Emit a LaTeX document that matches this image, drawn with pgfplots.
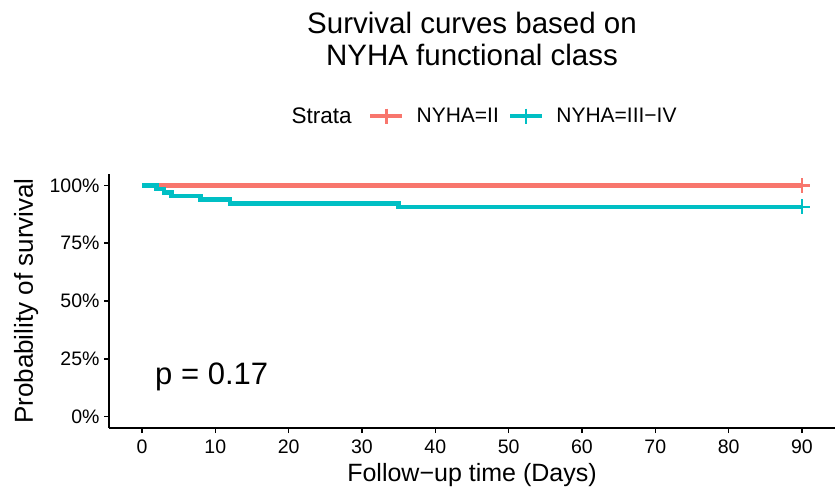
\documentclass[border=0pt]{standalone}
\usepackage{pgfplots}
\pgfplotsset{compat=1.18}
\usepackage{fontspec}
\setmainfont{Liberation Sans}
\definecolor{cred}{HTML}{F8766D}
\definecolor{cteal}{HTML}{00BFC4}
\begin{document}
\begin{tikzpicture}
\useasboundingbox (0,0) rectangle (837pt,491pt);
\begin{axis}[
  at={(109pt,63pt)}, anchor=south west,
  scale only axis, width=726pt, height=254pt,
  xmin=-4.5, xmax=94.5, ymin=-5, ymax=105,
  axis x line*=bottom, axis y line*=left,
  axis line style={line width=1.6pt, black, -},
  xtick={0,10,...,90}, ytick={0,25,50,75,100},
  yticklabel={\pgfmathprintnumber{\tick}\%},
  /pgf/number format/assume math mode=true,
  tick align=outside, major tick length=5pt,
  tick style={line width=1.6pt, black},
  ticklabel style={font=\fontsize{19.5}{22}\selectfont},
  xticklabel style={yshift=-3pt},
  yticklabel style={xshift=-1pt},
  xlabel={Follow−up time (Days)},
  ylabel={Probability of survival},
  xlabel style={font=\fontsize{25}{28}\selectfont, at={(axis description cs:0.5,-0.2087)}, anchor=base},
  ylabel style={font=\fontsize{26}{28}\selectfont, at={(axis description cs:-0.1047,0.5)}, anchor=base},
  legend columns=-1,
  legend style={at={(0.3566,1.228)}, anchor=west, draw=none, fill=none, inner sep=0pt,
    font=\fontsize{21}{24}\selectfont,
    nodes={inner sep=0pt},
    /tikz/every odd column/.append style={column sep=12pt},
    /tikz/every even column/.append style={column sep=9pt}},
  legend image code/.code={
    \draw[#1, mark=none] (0pt,0pt) -- (32pt,0pt);
    \draw[#1, only marks] plot coordinates {(16pt,0pt)};
  },
  clip=false,
]
\addplot[cred, line width=4.5pt, mark=none, forget plot] coordinates {(0,100) (90,100)};
\addplot[cred, line width=4.5pt, only marks, mark=+, mark size=7.5pt,
  mark options={line width=2.6pt}] coordinates {(90,100)};
\addlegendentry{NYHA=II}
\addplot[cteal, line width=4.5pt, const plot, mark=none, forget plot] coordinates {
 (0,100) (2,98.46) (3,96.92) (4,95.38) (8,93.85) (12,92.31) (35,90.77) (90,90.77)};
\addplot[cteal, line width=4.5pt, only marks, mark=+, mark size=7.5pt,
  mark options={line width=2.6pt}] coordinates {(90,90.77)};
\addlegendentry{NYHA=III−IV}
\node[anchor=base west, font=\fontsize{22.5}{24}\selectfont] at (axis description cs:0.2466,1.197) {Strata};
\node[anchor=base, font=\fontsize{29.5}{32}\selectfont] at (axis description cs:0.5,1.554) {Survival curves based on};
\node[anchor=base, font=\fontsize{29.5}{32}\selectfont] at (axis description cs:0.5,1.429) {NYHA functional class};
\node[anchor=base west, inner sep=0pt, font=\fontsize{31}{34}\selectfont] at (axis description cs:0.0634,0.173) {p = 0.17};
\end{axis}
\end{tikzpicture}
\end{document}
